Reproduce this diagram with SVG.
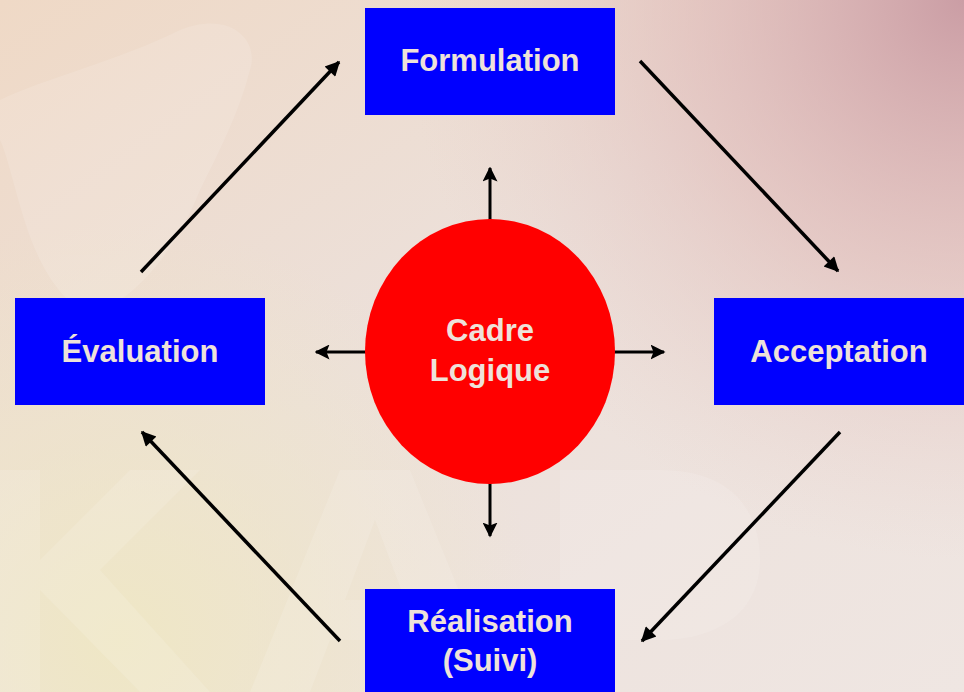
<svg xmlns="http://www.w3.org/2000/svg" width="964" height="692" viewBox="0 0 964 692">
<defs>
<linearGradient id="bg" x1="0" y1="0" x2="1" y2="1">
<stop offset="0" stop-color="#efd9c6"/>
<stop offset="0.45" stop-color="#ece0da"/>
<stop offset="1" stop-color="#efe6e2"/>
</linearGradient>
<radialGradient id="pink" cx="964" cy="0" r="560" gradientUnits="userSpaceOnUse">
<stop offset="0" stop-color="#c99aa2" stop-opacity="0.95"/>
<stop offset="0.5" stop-color="#dcb0ae" stop-opacity="0.5"/>
<stop offset="1" stop-color="#e6c8c2" stop-opacity="0"/>
</radialGradient>
<radialGradient id="yellow" cx="120" cy="640" r="420" gradientUnits="userSpaceOnUse">
<stop offset="0" stop-color="#efe7c4" stop-opacity="0.95"/>
<stop offset="1" stop-color="#efe7c4" stop-opacity="0"/>
</radialGradient>
<marker id="ah" viewBox="0 0 10 10" refX="9" refY="5" markerWidth="6" markerHeight="4.2" orient="auto" markerUnits="strokeWidth">
<path d="M0,0 L10,5 L0,10 Z" fill="#000"/>
</marker>
<marker id="ahs" viewBox="0 0 10 10" refX="9" refY="5" markerWidth="5" markerHeight="5" orient="auto" markerUnits="strokeWidth">
<path d="M0,0 L10,5 L0,10 L2,5 Z" fill="#000"/>
</marker>
</defs>
<style>
.box{fill:#0000ff;}
.lbl{font-family:"Liberation Sans",Arial,sans-serif;font-weight:bold;font-size:31px;fill:#eee2da;text-anchor:middle;}
.big{stroke:#000;stroke-width:3.5;fill:none;marker-end:url(#ah);}
.sm{stroke:#000;stroke-width:3;fill:none;marker-end:url(#ahs);}
</style>
<rect width="964" height="692" fill="url(#bg)"/>
<rect width="964" height="692" fill="url(#pink)"/>
<rect width="964" height="692" fill="url(#yellow)"/>
<g fill="#ffffff" opacity="0.12">
<path d="M0,100 C40,80 120,60 180,30 C230,10 260,40 250,70 C240,110 220,150 200,190 C180,240 150,280 120,300 C90,330 60,300 40,260 C20,220 10,160 0,140 Z"/>
<path d="M0,470 L40,470 L40,560 L130,470 L200,470 L100,570 L210,692 L140,692 L40,590 L40,692 L0,692 Z"/>
<path d="M250,692 L340,470 L410,470 L500,692 L440,692 L420,640 L330,640 L310,692 Z M345,600 L405,600 L375,520 Z"/>
<path d="M560,470 L660,470 C740,470 760,520 760,560 C760,610 720,640 660,640 L620,640 L620,692 L560,692 Z"/>
</g>
<g id="connectors">
<line class="big" x1="141" y1="272" x2="339" y2="62"/>
<line class="big" x1="640" y1="61" x2="838" y2="271"/>
<line class="big" x1="840" y1="432" x2="642" y2="641"/>
<line class="big" x1="340" y1="641" x2="142" y2="432"/>
<line class="sm" x1="490" y1="220" x2="490" y2="168"/>
<line class="sm" x1="490" y1="483" x2="490" y2="536"/>
<line class="sm" x1="614" y1="352" x2="664" y2="352"/>
<line class="sm" x1="366" y1="352" x2="316" y2="352"/>
</g>
<g id="formulation">
<rect class="box" x="365" y="8" width="250" height="107"/>
<text class="lbl" x="490" y="71">Formulation</text>
</g>
<g id="acceptation">
<rect class="box" x="714" y="298" width="252" height="107"/>
<text class="lbl" x="839" y="362">Acceptation</text>
</g>
<g id="evaluation">
<rect class="box" x="15" y="298" width="250" height="107"/>
<text class="lbl" x="140" y="362">Évaluation</text>
</g>
<g id="realisation">
<rect class="box" x="365" y="589" width="250" height="110"/>
<text class="lbl" x="490" y="632">Réalisation</text>
<text class="lbl" x="490" y="671">(Suivi)</text>
</g>
<g id="cadre">
<ellipse cx="490" cy="351.5" rx="125" ry="132.5" fill="#ff0000"/>
<text class="lbl" x="490" y="341">Cadre</text>
<text class="lbl" x="490" y="381">Logique</text>
</g>
</svg>
